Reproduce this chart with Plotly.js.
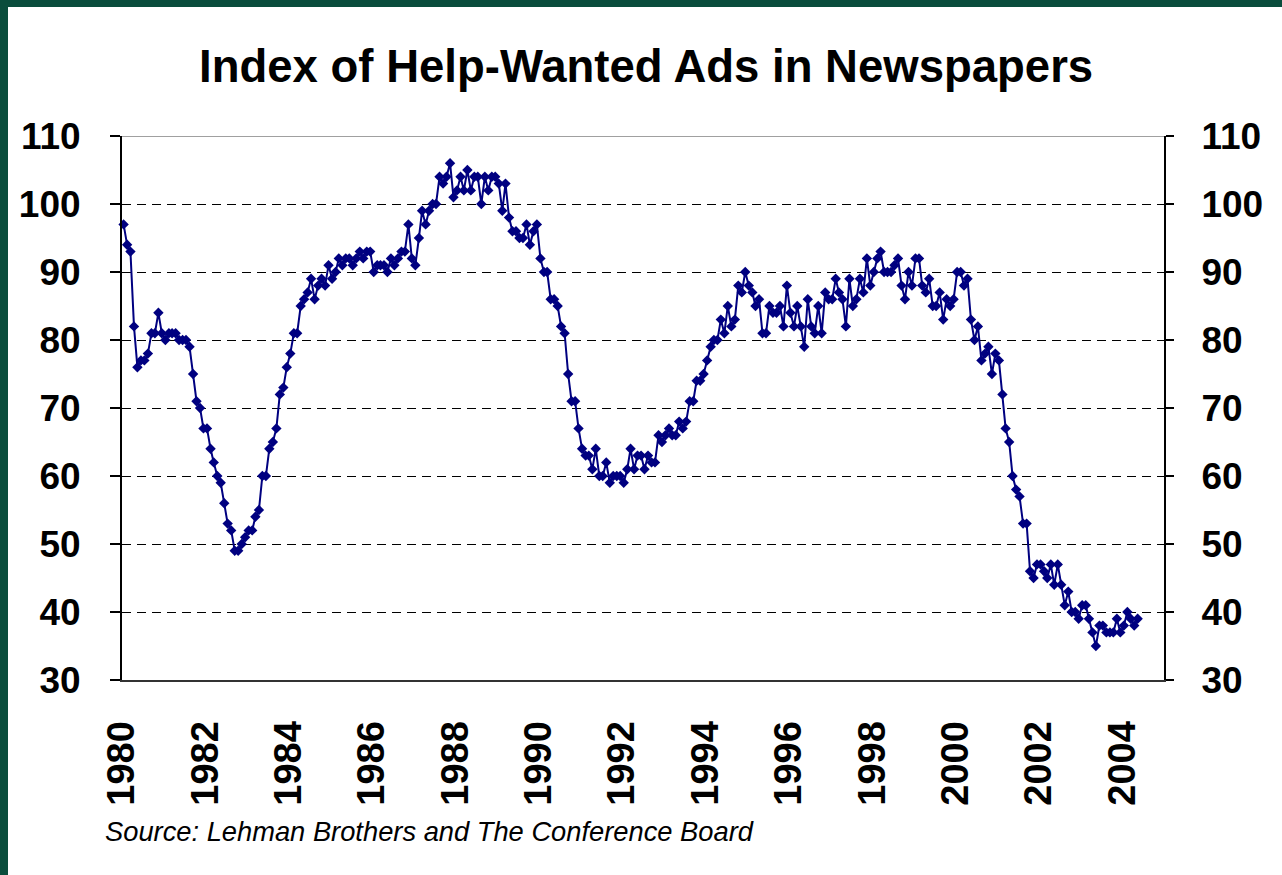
<!DOCTYPE html>
<html><head><meta charset="utf-8">
<script src="https://cdn.plot.ly/plotly-3.0.1.min.js"></script>
<style>
html,body{margin:0;padding:0;background:#fff;}
#wrap{position:relative;width:1282px;height:875px;overflow:hidden;background:#fff;}
#chart{position:absolute;left:0;top:0;width:1282px;height:875px;}
.band{position:absolute;background:#0a4d3c;}
</style></head><body>
<div id="wrap"><div id="chart"></div>
<div class="band" style="left:0;top:0;width:1282px;height:7px"></div>
<div class="band" style="left:0;top:0;width:8px;height:875px"></div>
</div>
<script>
const startYear = 1980;
const idx1980 = [97, 94, 93, 82, 76, 77, 77, 78, 81, 81, 84, 81];
const idx1981 = [80, 81, 81, 81, 80, 80, 80, 79, 75, 71, 70, 67];
const idx1982 = [67, 64, 62, 60, 59, 56, 53, 52, 49, 49, 50, 51];
const idx1983 = [52, 52, 54, 55, 60, 60, 64, 65, 67, 72, 73, 76];
const idx1984 = [78, 81, 81, 85, 86, 87, 89, 86, 88, 89, 88, 91];
const idx1985 = [89, 90, 92, 91, 92, 92, 91, 92, 93, 92, 93, 93];
const idx1986 = [90, 91, 91, 91, 90, 92, 91, 92, 93, 93, 97, 92];
const idx1987 = [91, 95, 99, 97, 99, 100, 100, 104, 103, 104, 106, 101];
const idx1988 = [102, 104, 102, 105, 102, 104, 104, 100, 104, 102, 104, 104];
const idx1989 = [103, 99, 103, 98, 96, 96, 95, 95, 97, 94, 96, 97];
const idx1990 = [92, 90, 90, 86, 86, 85, 82, 81, 75, 71, 71, 67];
const idx1991 = [64, 63, 63, 61, 64, 60, 60, 62, 59, 60, 60, 60];
const idx1992 = [59, 61, 64, 61, 63, 63, 61, 63, 62, 62, 66, 65];
const idx1993 = [66, 67, 66, 66, 68, 67, 68, 71, 71, 74, 74, 75];
const idx1994 = [77, 79, 80, 80, 83, 81, 85, 82, 83, 88, 87, 90];
const idx1995 = [88, 87, 85, 86, 81, 81, 85, 84, 84, 85, 82, 88];
const idx1996 = [84, 82, 85, 82, 79, 86, 82, 81, 85, 81, 87, 86];
const idx1997 = [86, 89, 87, 86, 82, 89, 85, 86, 89, 87, 92, 88];
const idx1998 = [90, 92, 93, 90, 90, 90, 91, 92, 88, 86, 90, 88];
const idx1999 = [92, 92, 88, 87, 89, 85, 85, 87, 83, 86, 85, 86];
const idx2000 = [90, 90, 88, 89, 83, 80, 82, 77, 78, 79, 75, 78];
const idx2001 = [77, 72, 67, 65, 60, 58, 57, 53, 53, 46, 45, 47];
const idx2002 = [47, 46, 45, 47, 44, 47, 44, 41, 43, 40, 40, 39];
const idx2003 = [41, 41, 39, 37, 35, 38, 38, 37, 37, 37, 39, 37];
const idx2004 = [38, 40, 39, 38, 39];

const tickYears = ['1980','1982','1984','1986','1988','1990','1992','1994','1996','1998','2000','2002','2004'];
const yTicks = [30, 40, 50, 60, 70, 80, 90, 100, 110];
const titleText = 'Index of Help-Wanted Ads in Newspapers';
const sourceText = 'Source: Lehman Brothers and The Conference Board';

const series = [].concat(idx1980, idx1981, idx1982, idx1983, idx1984, idx1985, idx1986,
  idx1987, idx1988, idx1989, idx1990, idx1991, idx1992, idx1993, idx1994, idx1995,
  idx1996, idx1997, idx1998, idx1999, idx2000, idx2001, idx2002, idx2003, idx2004);
const dates = series.map((v, i) => {
  const y = startYear + Math.floor(i / 12);
  const m = (i % 12) + 1;
  return y + '-' + String(m).padStart(2, '0') + '-15';
});

const FONT = 'Liberation Sans, Arial, Helvetica, sans-serif';
const NAVY = '#000080';

const traces = [
  {
    x: dates, y: series, type: 'scatter', mode: 'lines+markers',
    line: {color: NAVY, width: 2},
    marker: {symbol: 'diamond', size: 8, color: NAVY},
    cliponaxis: false, hoverinfo: 'x+y'
  },
  {x: [], y: [], type: 'scatter', mode: 'lines', yaxis: 'y2', hoverinfo: 'skip', showlegend: false}
];

const tickFont = {family: FONT, size: 37, color: '#000', weight: 'bold'};

const layout = {
  width: 1282, height: 875,
  margin: {l: 122, r: 118, t: 136, b: 195, pad: 0},
  paper_bgcolor: 'rgba(0,0,0,0)', plot_bgcolor: '#fff',
  showlegend: false,
  title: {
    text: '<b>' + titleText + '</b>',
    font: {family: FONT, size: 45.5, color: '#000'},
    x: 0.504, xanchor: 'center', y: 1 - 66 / 875, yanchor: 'middle'
  },
  xaxis: {
    type: 'date', range: ['1980-01-01', '2005-01-01'],
    tickvals: tickYears.map(y => y + '-01-01'), ticktext: tickYears,
    tickangle: -90, ticks: '', showgrid: false, zeroline: false,
    showline: true, linecolor: '#333', linewidth: 2,
    tickfont: {family: FONT, size: 38, color: '#000', weight: 'bold'},
    ticklabelstandoff: 24, fixedrange: true
  },
  yaxis: {
    range: [30, 110], tickvals: yTicks, ticks: 'outside', ticklen: 10, tickcolor: '#000', tickwidth: 1.5,
    showline: true, linecolor: '#000', linewidth: 2,
    showgrid: true, gridcolor: '#000', gridwidth: 1, griddash: '9px,6px',
    zeroline: false, tickfont: tickFont, ticklabelstandoff: 22, fixedrange: true
  },
  yaxis2: {
    overlaying: 'y', side: 'right', anchor: 'x',
    range: [30, 110], tickvals: yTicks, ticks: 'outside', ticklen: 8, tickcolor: '#000', tickwidth: 1.5,
    showline: true, linecolor: '#000', linewidth: 2,
    showgrid: false, zeroline: false, tickfont: tickFont, ticklabelstandoff: 20, fixedrange: true
  },
  shapes: [
    {type: 'line', xref: 'paper', yref: 'y', x0: 0, x1: 1, y0: 110, y1: 110,
     line: {color: '#a0a0a0', width: 2}, layer: 'above'}
  ],
  annotations: [
    {text: '<i>' + sourceText + '</i>', xref: 'paper', yref: 'paper',
     x: (103 - 122) / 1042, y: (680 - 831) / 544, xanchor: 'left', yanchor: 'middle',
     showarrow: false, font: {family: FONT, size: 27.3, color: '#000'}}
  ]
};

Plotly.newPlot('chart', traces, layout, {displayModeBar: false, staticPlot: true});
</script>
</body></html>
